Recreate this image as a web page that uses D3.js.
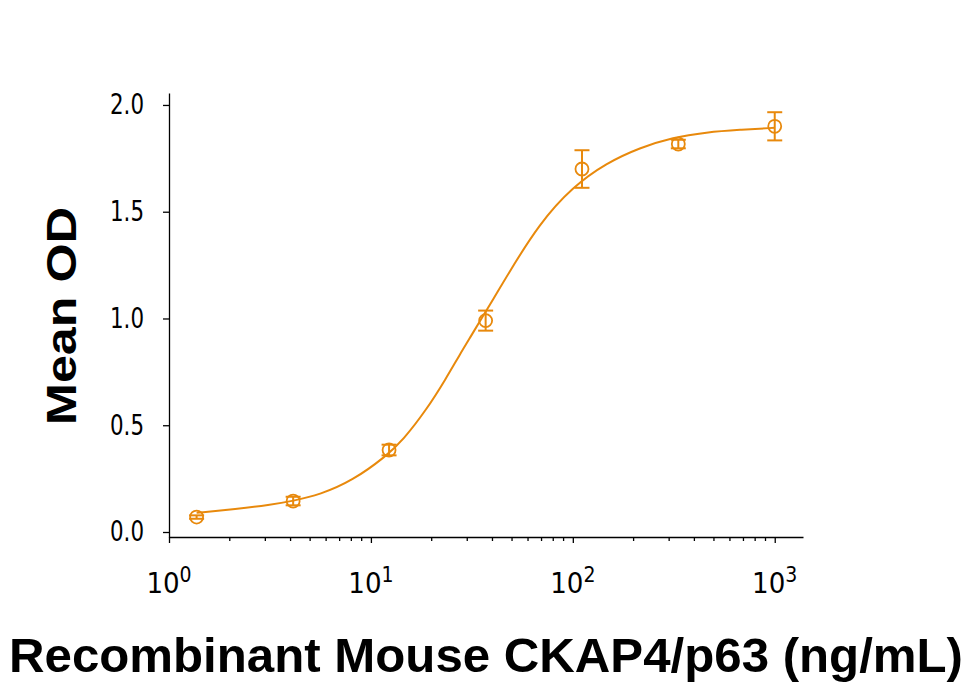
<!DOCTYPE html>
<html>
<head>
<meta charset="utf-8">
<script src="https://cdn.jsdelivr.net/npm/d3@7"></script>
<style>
  body { margin: 0; background: #fff; }
  .num { font-family: "DejaVu Sans Condensed", "DejaVu Sans", sans-serif; font-stretch: condensed; }
</style>
</head>
<body>
<div id="chart"></div>
<script>
// concentrations (ng/mL), threefold dilution
var conc = [1.37, 4.12, 12.3, 37, 111, 333, 1000];
var meanOD = [0.07, 0.145, 0.384, 0.99, 1.70, 1.817, 1.90];
var errOD = [0.008, 0.02, 0.025, 0.047, 0.088, 0.02, 0.066];

// fitted curve
var fitConc = [1.37, 2.15, 3.15, 4.1, 5.6, 8.1, 11.9, 14.4, 18.8, 23.6, 27.5, 31.9, 35.8, 40.1, 46.9, 68.5, 100, 146.6, 215, 313, 459, 671, 1000];
var fitOD = [0.09, 0.108, 0.127, 0.145, 0.175, 0.24, 0.355, 0.43, 0.571, 0.72, 0.83, 0.93, 1.01, 1.085, 1.196, 1.447, 1.617, 1.728, 1.80, 1.848, 1.872, 1.884, 1.893];

var yTicks = [0, 0.5, 1.0, 1.5, 2.0];
var xMajor = [1, 10, 100, 1000];

var width = 972, height = 686;
var orange = '#e8890c';

var svg = d3.select('#chart').append('svg')
    .attr('width', width)
    .attr('height', height);

var x = d3.scaleLog()
    .domain([1, Math.pow(10, 3.14)])
    .range([169, 803]);

var y = d3.scaleLinear()
    .domain([-0.0234, 2.056])
    .range([537, 93]);

// y axis
var yAxis = d3.axisLeft(y)
    .tickValues(yTicks)
    .tickFormat(d3.format('.1f'))
    .tickSize(6)
    .tickSizeOuter(0)
    .tickPadding(19);

var gy = svg.append('g')
    .attr('transform', 'translate(' + x(1) + ',0)')
    .call(yAxis);
gy.selectAll('.tick text')
    .attr('class', 'num')
    .attr('font-size', 28)
    .attr('fill', '#000')
    .attr('textLength', 34)
    .attr('lengthAdjust', 'spacingAndGlyphs');
gy.selectAll('line, path').attr('stroke', '#000').attr('stroke-width', 1.3);

// x axis, majors and minors
var minors = [];
for (var e = 0; e < 3; e++) {
    for (var k = 2; k <= 9; k++) minors.push(k * Math.pow(10, e));
}

var xAxis = d3.axisBottom(x)
    .tickValues(xMajor)
    .tickFormat('')
    .tickSize(6)
    .tickSizeOuter(0);

var gx = svg.append('g')
    .attr('transform', 'translate(0,' + y.range()[0] + ')')
    .call(xAxis);
gx.selectAll('line, path').attr('stroke', '#000').attr('stroke-width', 1.3);

gx.selectAll('line.minor')
    .data(minors)
    .enter().append('line')
    .attr('class', 'minor')
    .attr('x1', function (d) { return x(d); })
    .attr('x2', function (d) { return x(d); })
    .attr('y1', 0)
    .attr('y2', 4)
    .attr('stroke', '#000')
    .attr('stroke-width', 1.3);

var lab = gx.selectAll('text.xlab')
    .data(xMajor)
    .enter().append('text')
    .attr('class', 'xlab num')
    .attr('x', function (d) { return x(d); })
    .attr('y', 56)
    .attr('text-anchor', 'middle')
    .attr('font-size', 29)
    .attr('fill', '#000');
lab.append('tspan').text('10');
lab.append('tspan')
    .attr('dy', -11)
    .attr('font-size', 21)
    .text(function (d) { return Math.round(Math.log10(d)); });

// fitted curve
var line = d3.line()
    .x(function (d) { return x(d[0]); })
    .y(function (d) { return y(d[1]); })
    .curve(d3.curveBasis);

svg.append('path')
    .datum(d3.zip(fitConc, fitOD))
    .attr('d', line)
    .attr('fill', 'none')
    .attr('stroke', orange)
    .attr('stroke-width', 2);

// points with error bars
var pts = svg.selectAll('g.pt')
    .data(d3.zip(conc, meanOD, errOD))
    .enter().append('g')
    .attr('class', 'pt');

pts.append('line')
    .attr('x1', function (d) { return x(d[0]); })
    .attr('x2', function (d) { return x(d[0]); })
    .attr('y1', function (d) { return y(d[1] + d[2]); })
    .attr('y2', function (d) { return y(d[1] - d[2]); })
    .attr('stroke', orange)
    .attr('stroke-width', 2);

[1, -1].forEach(function (s) {
    pts.append('line')
        .attr('x1', function (d) { return x(d[0]) - 7.5; })
        .attr('x2', function (d) { return x(d[0]) + 7.5; })
        .attr('y1', function (d) { return y(d[1] + s * d[2]); })
        .attr('y2', function (d) { return y(d[1] + s * d[2]); })
        .attr('stroke', orange)
        .attr('stroke-width', 2);
});

pts.append('circle')
    .attr('cx', function (d) { return x(d[0]); })
    .attr('cy', function (d) { return y(d[1]); })
    .attr('r', 6.5)
    .attr('fill', 'none')
    .attr('stroke', orange)
    .attr('stroke-width', 1.8);

// axis titles
svg.append('text')
    .attr('transform', 'translate(76,316)rotate(-90)')
    .attr('text-anchor', 'middle')
    .attr('font-family', '"Liberation Sans", Arial, sans-serif')
    .attr('font-weight', 'bold')
    .attr('font-size', 42)
    .attr('textLength', 218)
    .attr('lengthAdjust', 'spacingAndGlyphs')
    .text('Mean OD');

svg.append('text')
    .attr('x', 486)
    .attr('y', 672)
    .attr('text-anchor', 'middle')
    .attr('font-family', '"Liberation Sans", Arial, sans-serif')
    .attr('font-weight', 'bold')
    .attr('font-size', 49)
    .attr('textLength', 954)
    .attr('lengthAdjust', 'spacingAndGlyphs')
    .text('Recombinant Mouse CKAP4/p63 (ng/mL)');
</script>
</body>
</html>
